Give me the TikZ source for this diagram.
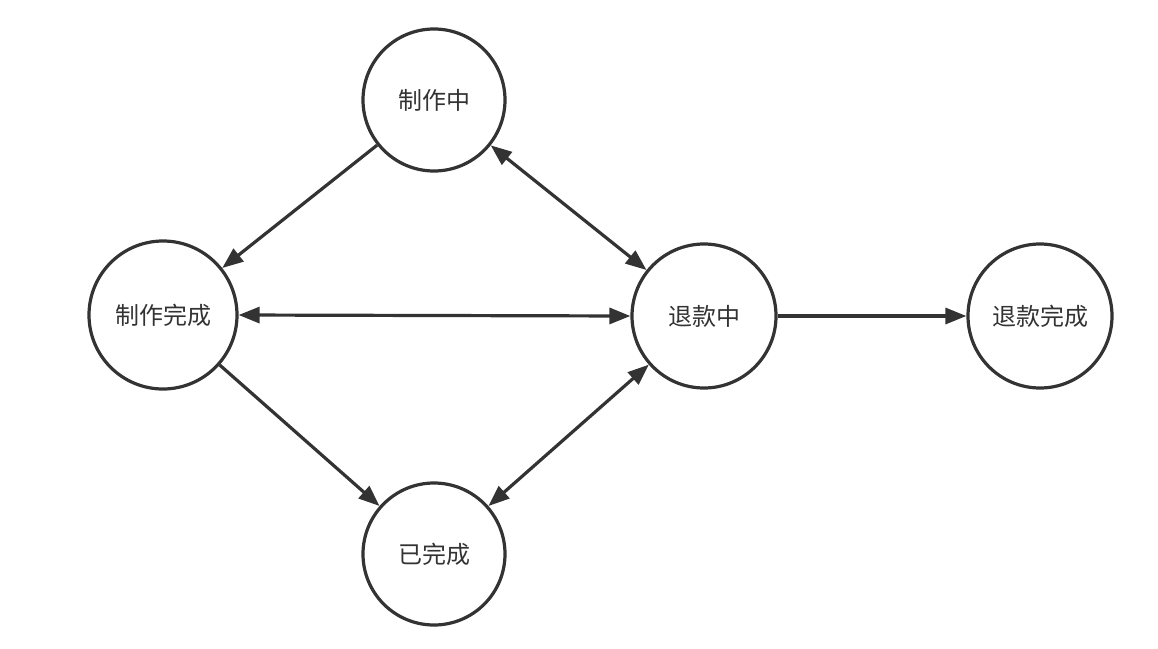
\documentclass[tikz,border=0pt]{standalone}
\usepackage{fontspec}
\newfontfamily\cjk{Noto Sans CJK SC}
\usetikzlibrary{arrows.meta}
\definecolor{ink}{HTML}{333333}
\begin{document}
\begin{tikzpicture}[x=1pt, y=-1pt,
  state/.style={circle, draw=ink, line width=3.2pt, minimum size=142pt, inner sep=0pt, font=\cjk\fontsize{24}{24}\selectfont, text=ink},
  flow/.style={draw=ink, line width=3.2pt, -{Triangle[length=21pt, width=16pt]}},
  twoway/.style={draw=ink, line width=3.2pt, {Triangle[length=21pt, width=16pt]}-{Triangle[length=21pt, width=16pt]}}]
\useasboundingbox (0,0) rectangle (1158,648);
\node[state] (making) at (434,100){制作中};
\node[state, minimum size=148pt] (made) at (163,315){制作完成};
\node[state, minimum size=144pt] (refunding) at (704,316){退款中};
\node[state, minimum size=144pt] (refunded) at (1040,316){退款完成};
\node[state] (done) at (434,554){已完成};
\draw[flow](making) -- (made);
\draw[twoway](making) -- (refunding);
\draw[twoway](made.east) -- (refunding.west);
\draw[flow](made) -- (done);
\draw[twoway](refunding) -- (done);
\draw[flow](refunding.east) -- (refunded.west);
\end{tikzpicture}
\end{document}
